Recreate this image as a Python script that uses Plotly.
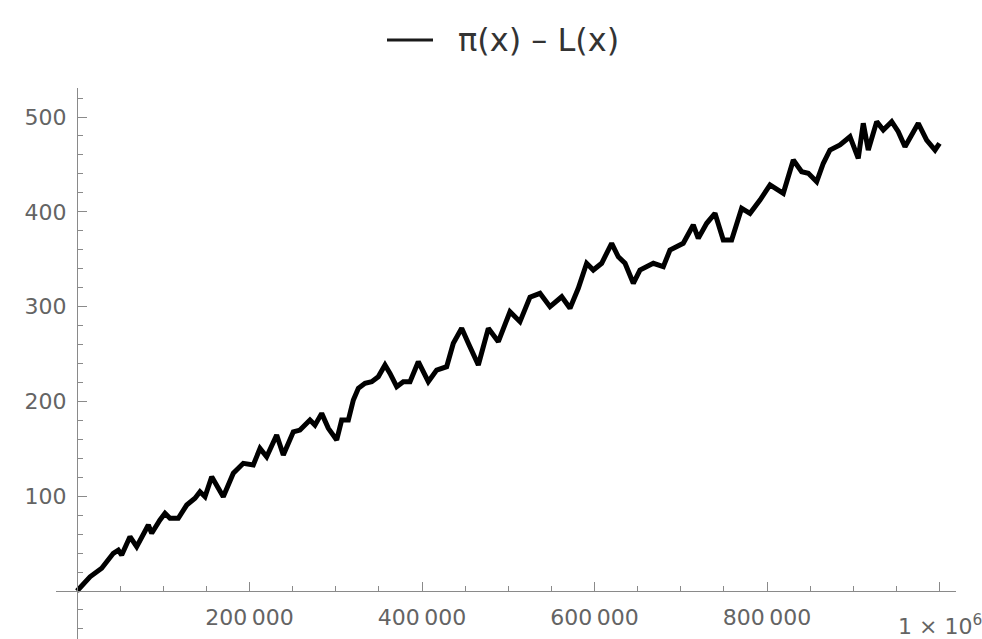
import plotly.graph_objects as go

# ---- data ----
x_vals = [0, 15100, 28600, 42100, 47900, 51800, 61400, 69200, 82700, 86600,
          96200, 102000, 107800, 117400, 127200, 136800, 142600, 148400, 156200, 169600,
          181200, 192800, 204400, 212200, 219900, 231500, 239200, 250800, 258500, 270100,
          275900, 283700, 291400, 301100, 306900, 314600, 320400, 326200, 333900, 341700,
          349300, 357100, 362900, 370700, 378300, 386100, 395700, 407300, 417000, 428600,
          436300, 446000, 453700, 465300, 476900, 488500, 502000, 513600, 525200, 536800,
          548400, 562000, 571600, 581200, 590900, 598600, 608300, 619900, 627600, 635400,
          645000, 652700, 668200, 679800, 687500, 702900, 714500, 720300, 730100, 739700,
          749300, 759000, 770600, 780300, 791900, 803500, 818900, 830500, 840200, 847900,
          857600, 865300, 873000, 884600, 896200, 905800, 911600, 917400, 927200, 934800,
          944600, 952200, 960000, 967700, 975400, 985100, 994800, 1000000]
y_vals = [0, 15.0, 24.0, 39.8, 43.2, 38.0, 57.3, 46.7, 69.6, 60.9,
          74.9, 82.0, 76.7, 76.7, 90.7, 97.8, 104.7, 99.5, 120.6, 99.5,
          124.2, 134.7, 132.9, 150.5, 141.7, 164.6, 143.5, 168.0, 169.8, 180.4,
          175.0, 187.4, 171.6, 159.3, 180.4, 180.4, 201.5, 213.8, 219.1, 220.8,
          226.0, 238.4, 229.6, 215.5, 220.8, 220.8, 241.9, 220.8, 233.1, 236.6,
          261.3, 277.1, 261.3, 238.4, 277.1, 263.0, 294.6, 284.1, 310.0, 314.0,
          299.9, 310.4, 298.2, 319.3, 345.7, 338.6, 345.7, 366.8, 352.6, 345.7,
          324.6, 338.6, 345.7, 342.1, 359.7, 366.8, 386.1, 372.0, 387.9, 398.4,
          370.3, 370.3, 403.7, 398.4, 412.4, 428.3, 419.5, 454.6, 442.3, 440.6,
          431.8, 451.2, 465.2, 470.5, 479.2, 456.4, 493.4, 465.2, 495.1, 486.3,
          495.1, 484.5, 468.7, 481.0, 493.4, 475.7, 465.2, 472.3]

x_tick_vals = [200000, 400000, 600000, 800000, 1000000]
x_tick_text = ["200\u2009000", "400\u2009000", "600\u2009000", "800\u2009000", ""]
x_last_label = "1 × 10<sup>6</sup>"
y_tick_vals = [100, 200, 300, 400, 500]
y_tick_text = ["100", "200", "300", "400", "500"]
legend_label = "π(x) – L(x)"

x_range = [-24348, 1019130]
y_range = [-50.6, 530.6]

axis_color = "#8a8a8a"
label_color = "#646464"
font_family = "DejaVu Sans"

fig = go.Figure()
fig.add_trace(go.Scatter(x=x_vals, y=y_vals, mode="lines",
                         line=dict(color="black", width=5),
                         showlegend=False, hoverinfo="skip"))

ypos = (0 - y_range[0]) / (y_range[1] - y_range[0])
xpos = (0 - x_range[0]) / (x_range[1] - x_range[0])

fig.update_layout(
    width=982, height=639,
    margin=dict(l=56, r=26, t=88, b=0, pad=0),
    paper_bgcolor="white", plot_bgcolor="white",
    showlegend=False,
    xaxis=dict(range=x_range, anchor="free", position=ypos,
               showline=True, linecolor=axis_color, linewidth=1.3,
               ticks="inside", ticklen=9, tickwidth=1.3, tickcolor=axis_color,
               tickvals=x_tick_vals, ticktext=x_tick_text,
               tickfont=dict(family=font_family, size=22, color=label_color),
               ticklabelstandoff=6,
               showgrid=False, zeroline=False, automargin=False,
               minor=dict(tick0=0, dtick=50000, ticks="inside", ticklen=5,
                          tickwidth=1.1, tickcolor=axis_color, showgrid=False)),
    yaxis=dict(range=y_range, anchor="free", position=xpos,
               showline=True, linecolor=axis_color, linewidth=1.3,
               ticks="inside", ticklen=9, tickwidth=1.3, tickcolor=axis_color,
               tickvals=y_tick_vals, ticktext=y_tick_text,
               tickfont=dict(family=font_family, size=22, color=label_color),
               ticklabelstandoff=6,
               showgrid=False, zeroline=False, automargin=False,
               minor=dict(tick0=0, dtick=20, ticks="inside", ticklen=5,
                          tickwidth=1.1, tickcolor=axis_color, showgrid=False)),
)

# last x label (1 x 10^6), set a little lower than the others as in the reference
fig.add_annotation(x=1000000, xref="x", y=-19, yref="y", text=x_last_label,
                   showarrow=False, xanchor="center", yanchor="top",
                   font=dict(family=font_family, size=22, color=label_color))

# legend drawn above the plot: line sample + label
fig.add_shape(type="line", xref="paper", yref="paper",
              x0=(387 - 56) / 900, x1=(433 - 56) / 900,
              y0=(639 - 40) / 551, y1=(639 - 40) / 551,
              line=dict(color="#1a1a1a", width=3))
fig.add_annotation(x=(456 - 56) / 900, xref="paper", y=(639 - 40) / 551, yref="paper",
                   text=legend_label, showarrow=False, xanchor="left", yanchor="middle",
                   font=dict(family=font_family, size=32, color="#333333"))

fig.write_html("out.html")
